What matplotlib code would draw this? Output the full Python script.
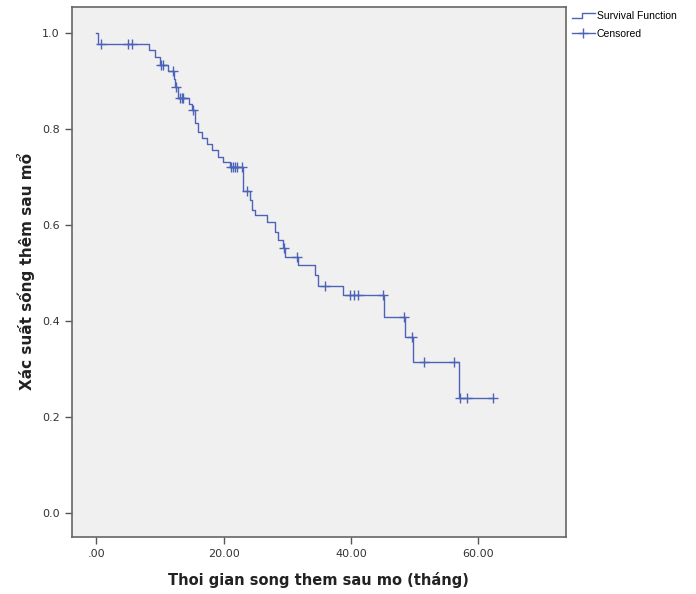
import matplotlib
matplotlib.use("Agg")
import matplotlib.pyplot as plt
from matplotlib.lines import Line2D
from matplotlib.legend_handler import HandlerBase

# Kaplan-Meier step data (time in months, survival after the step)
event_times = [0.25, 8.2, 9.2, 10.0, 11.3, 12.2, 12.4, 12.8, 14.6, 15.0, 15.5, 16.0,
               16.6, 17.4, 18.2, 19.1, 19.9, 21.0, 23.1, 24.2, 24.5, 24.9, 26.8, 28.1,
               28.5, 29.3, 29.6, 31.7, 34.3, 34.8, 38.8, 45.2, 48.5, 49.7, 56.9]
event_surv = [0.978, 0.966, 0.950, 0.934, 0.922, 0.905, 0.888, 0.866, 0.852, 0.840, 0.813, 0.795,
              0.781, 0.770, 0.757, 0.742, 0.731, 0.722, 0.672, 0.652, 0.631, 0.621, 0.607, 0.586,
              0.569, 0.552, 0.533, 0.516, 0.495, 0.474, 0.454, 0.408, 0.366, 0.314, 0.239]

cens_times = [0.7, 5.0, 5.6, 10.2, 10.5, 12.0, 12.5, 13.1, 13.4, 13.6, 15.2,
              21.1, 21.4, 21.7, 22.1, 22.9, 23.7, 29.4, 31.5, 35.9,
              39.9, 40.5, 41.1, 45.1, 48.4, 49.6, 51.4, 56.2, 57.1, 58.2, 62.3]

x_ticks = [0, 20, 40, 60]
x_ticklabels = [".00", "20.00", "40.00", "60.00"]
y_ticks = [0.0, 0.2, 0.4, 0.6, 0.8, 1.0]
y_ticklabels = ["0.0", "0.2", "0.4", "0.6", "0.8", "1.0"]

LINE = "#4d63b8"

def surv_at(t):
    s = 1.0
    for et, ev in zip(event_times, event_surv):
        if et <= t:
            s = ev
    return s

step_x = [0.0] + event_times + [max(cens_times)]
step_y = [1.0] + event_surv + [event_surv[-1]]
cens_surv = [surv_at(t) for t in cens_times]

fig = plt.figure(figsize=(6.96, 5.94), dpi=100)
ax = fig.add_axes([0.1029, 0.0963, 0.7104, 0.8919])
ax.set_facecolor("#f0f0f0")

ax.step(step_x, step_y, where="post", color=LINE, lw=1.0)
ax.plot(cens_times, cens_surv, linestyle="none", marker="+", color=LINE,
        markersize=7, markeredgewidth=1.0)

ax.set_xlim(-3.9, 73.8)
ax.set_ylim(-0.05, 1.055)
ax.set_xticks(x_ticks)
ax.set_xticklabels(x_ticklabels)
ax.set_yticks(y_ticks)
ax.set_yticklabels(y_ticklabels)
ax.tick_params(axis="both", direction="out", length=5, width=1, color="#555555",
               labelsize=8, labelcolor="#333333")
for sp in ax.spines.values():
    sp.set_color("#666666")
    sp.set_linewidth(1.2)

ax.set_xlabel("Thoi gian song them sau mo (tháng)", fontsize=10.5, fontweight="bold",
              color="#222222", labelpad=10)
ax.set_ylabel("Xác suất sống thêm sau mổ", fontsize=11, fontweight="bold",
              color="#222222", labelpad=5)


class StepHandler(HandlerBase):
    def create_artists(self, legend, orig_handle, xdescent, ydescent, width, height,
                       fontsize, trans):
        w, h = width, height
        xs = [-xdescent, -xdescent + 0.45 * w, -xdescent + 0.45 * w, -xdescent + w]
        ys = [-ydescent + 0.15 * h, -ydescent + 0.15 * h, -ydescent + 0.85 * h, -ydescent + 0.85 * h]
        ln = Line2D(xs, ys, color=LINE, lw=1.0)
        ln.set_transform(trans)
        return [ln]


step_handle = Line2D([], [], color=LINE, lw=1.0)
cens_handle = Line2D([], [], color=LINE, lw=1.0, marker="+", markersize=7)
fig.legend([step_handle, cens_handle], ["Survival Function", "Censored"],
           handler_map={step_handle: StepHandler()},
           loc="upper left", bbox_to_anchor=(0.820, 0.983), frameon=False,
           prop={"family": "Liberation Sans", "size": 7.5},
           handlelength=2.2, handletextpad=0.2, labelspacing=0.75,
           borderaxespad=0, borderpad=0.1)

fig.savefig("out.png", dpi=100, facecolor="white")
